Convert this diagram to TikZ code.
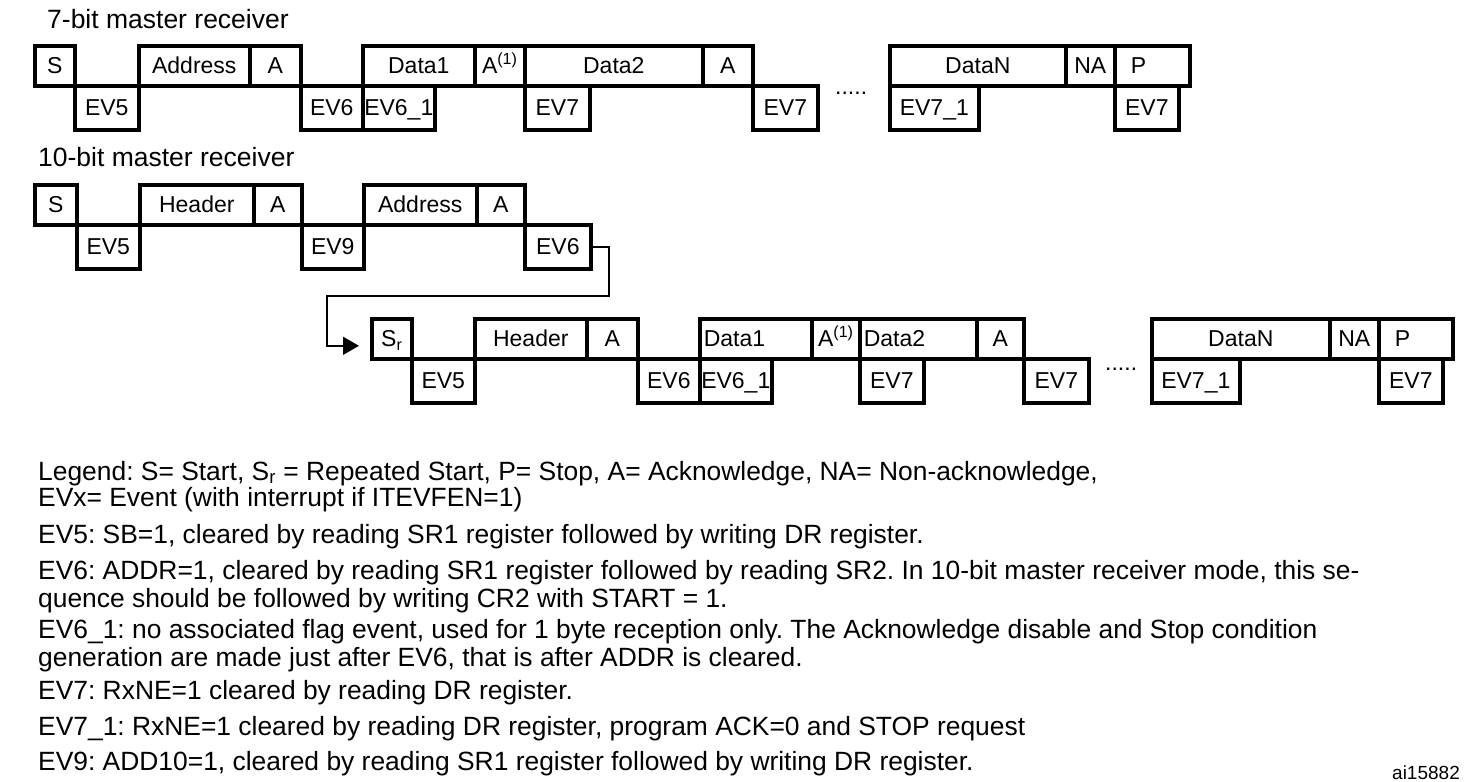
\documentclass[tikz,border=0pt]{standalone}
\usepackage{fontspec}
\setmainfont{Liberation Sans}
\usepackage{tikz}
\usetikzlibrary{arrows.meta}
\frenchspacing

\tikzset{
  fld/.style={draw, line width=3.6pt, line join=miter, inner sep=0pt, anchor=north west,
    minimum height=40pt, text height=18pt, text depth=2pt, font=\fontsize{23}{27}\selectfont},
  evt/.style={fld, minimum height=44pt},
  lft/.style={text width=#1, align=left, inner xsep=4pt},
  conn/.style={line width=1.5pt},
  ttl/.style={anchor=base west, inner sep=0pt, font=\fontsize{26.5}{30}\selectfont},
  lgd/.style={anchor=base west, inner sep=0pt, font=\fontsize{26.4}{30}\selectfont},
  dots/.style={anchor=base west, inner sep=0pt, font=\fontsize{23}{27}\selectfont},
}

\begin{document}
\begin{tikzpicture}[x=1pt, y=-1pt]
    \useasboundingbox (0,0) rectangle (1484,782);

    % 7-bit master receiver
    \node[ttl] (t1) at (47,28) {7-bit master receiver};
    \node[fld, minimum width=40pt]  (a-s)    at (33,44)  {S};
    \node[evt, minimum width=64pt]  (a-ev5)  at (73,84)  {EV5};
    \node[fld, minimum width=111pt] (a-addr) at (137,44) {Address};
    \node[fld, minimum width=51pt]  (a-ack1) at (248,44) {A};
    \node[evt, minimum width=62pt]  (a-ev6)  at (299,84) {EV6};
    \node[fld, minimum width=112pt] (a-d1)   at (361,44) {Data1};
    \node[evt, minimum width=72pt]  (a-ev61) at (361,84) {EV6\_1};
    \node[fld, minimum width=50pt]  (a-ack2) at (473,44) {A\textsuperscript{(1)}};
    \node[fld, minimum width=178pt] (a-d2)   at (523,44) {Data2};
    \node[evt, minimum width=65pt]  (a-ev7a) at (523,84) {EV7};
    \node[fld, minimum width=50pt]  (a-ack3) at (701,44) {A};
    \node[evt, minimum width=65pt]  (a-ev7b) at (751,84) {EV7};
    \node[dots] (a-dots) at (835,94) {.....};
    \node[fld, minimum width=176pt] (a-dn)   at (888,44) {DataN};
    \node[evt, minimum width=89pt]  (a-ev71) at (888,84) {EV7\_1};
    \node[fld, minimum width=49pt]  (a-na)   at (1064,44) {NA};
    \node[fld, lft=43pt, inner xsep=16pt] (a-p) at (1113,44) {P};
    \node[evt, minimum width=64pt]  (a-ev7c) at (1113,84) {EV7};

    % 10-bit master receiver
    \node[ttl] (t2) at (38,166) {10-bit master receiver};
    \node[fld, minimum width=42pt]  (b-s)    at (33,183)  {S};
    \node[evt, minimum width=63pt]  (b-ev5)  at (75,223)  {EV5};
    \node[fld, minimum width=114pt] (b-hdr)  at (138,183) {Header};
    \node[fld, minimum width=48pt]  (b-ack1) at (252,183) {A};
    \node[evt, minimum width=62pt]  (b-ev9)  at (300,223) {EV9};
    \node[fld, minimum width=113pt] (b-addr) at (362,183) {Address};
    \node[fld, minimum width=48pt]  (b-ack2) at (475,183) {A};
    \node[evt, minimum width=66pt]  (b-ev6)  at (523,223) {EV6};

    % after repeated start
    \node[fld, minimum width=40pt]  (c-sr)   at (370,317) {S\textsubscript{r}};
    \node[evt, minimum width=63pt]  (c-ev5)  at (410,357) {EV5};
    \node[fld, minimum width=112pt] (c-hdr)  at (473,317) {Header};
    \node[fld, minimum width=51pt]  (c-ack1) at (585,317) {A};
    \node[evt, minimum width=62pt]  (c-ev6)  at (636,357) {EV6};
    \node[fld, lft=104pt]           (c-d1)   at (698,317) {Data1};
    \node[evt, minimum width=72pt]  (c-ev61) at (698,357) {EV6\_1};
    \node[fld, minimum width=48pt]  (c-ack2) at (810,317) {A\textsuperscript{(1)}};
    \node[fld, lft=109pt]           (c-d2)   at (858,317) {Data2};
    \node[evt, minimum width=64pt]  (c-ev7a) at (858,357) {EV7};
    \node[fld, minimum width=47pt]  (c-ack3) at (975,317) {A};
    \node[evt, minimum width=65pt]  (c-ev7b) at (1022,357) {EV7};
    \node[dots] (c-dots) at (1105,370) {.....};
    \node[fld, minimum width=178pt] (c-dn)   at (1150,317) {DataN};
    \node[evt, minimum width=88pt]  (c-ev71) at (1150,357) {EV7\_1};
    \node[fld, minimum width=49pt]  (c-na)   at (1328,317) {NA};
    \node[fld, lft=42pt, inner xsep=16pt] (c-p) at (1377,317) {P};
    \node[evt, minimum width=64pt]  (c-ev7c) at (1377,357) {EV7};

    % jump down to the second line
    \coordinate (hop) at (609,296);
    \coordinate (drop) at (327,296);
    \draw[conn, -{Triangle[length=16pt,width=18pt]}, shorten >=11pt]
        (b-ev6.east) -| (hop) -- (drop) |- ([yshift=-7pt]c-sr.west);

    % Legend
    \node[lgd] (l1)  at (38,480) {Legend: S= Start, S\textsubscript{r} = Repeated Start, P= Stop, A= Acknowledge, NA= Non-acknowledge,};
    \node[lgd] (l2)  at (38,506) {EVx= Event (with interrupt if ITEVFEN=1)};
    \node[lgd] (l3)  at (38,543) {EV5: SB=1, cleared by reading SR1 register followed by writing DR register.};
    \node[lgd] (l4)  at (38,579) {EV6: ADDR=1, cleared by reading SR1 register followed by reading SR2. In 10-bit master receiver mode, this se-};
    \node[lgd] (l5)  at (38,607) {quence should be followed by writing CR2 with START = 1.};
    \node[lgd] (l6)  at (38,638) {EV6\_1: no associated flag event, used for 1 byte reception only. The Acknowledge disable and Stop condition};
    \node[lgd] (l7)  at (38,666) {generation are made just after EV6, that is after ADDR is cleared.};
    \node[lgd] (l8)  at (38,699) {EV7: RxNE=1 cleared by reading DR register.};
    \node[lgd] (l9)  at (38,735) {EV7\_1: RxNE=1 cleared by reading DR register, program ACK=0 and STOP request};
    \node[lgd] (l10) at (38,770) {EV9: ADD10=1, cleared by reading SR1 register followed by writing DR register.};
    \node[dots, font=\fontsize{19}{22}\selectfont] (tag) at (1392,779) {ai15882};

\end{tikzpicture}
\end{document}
